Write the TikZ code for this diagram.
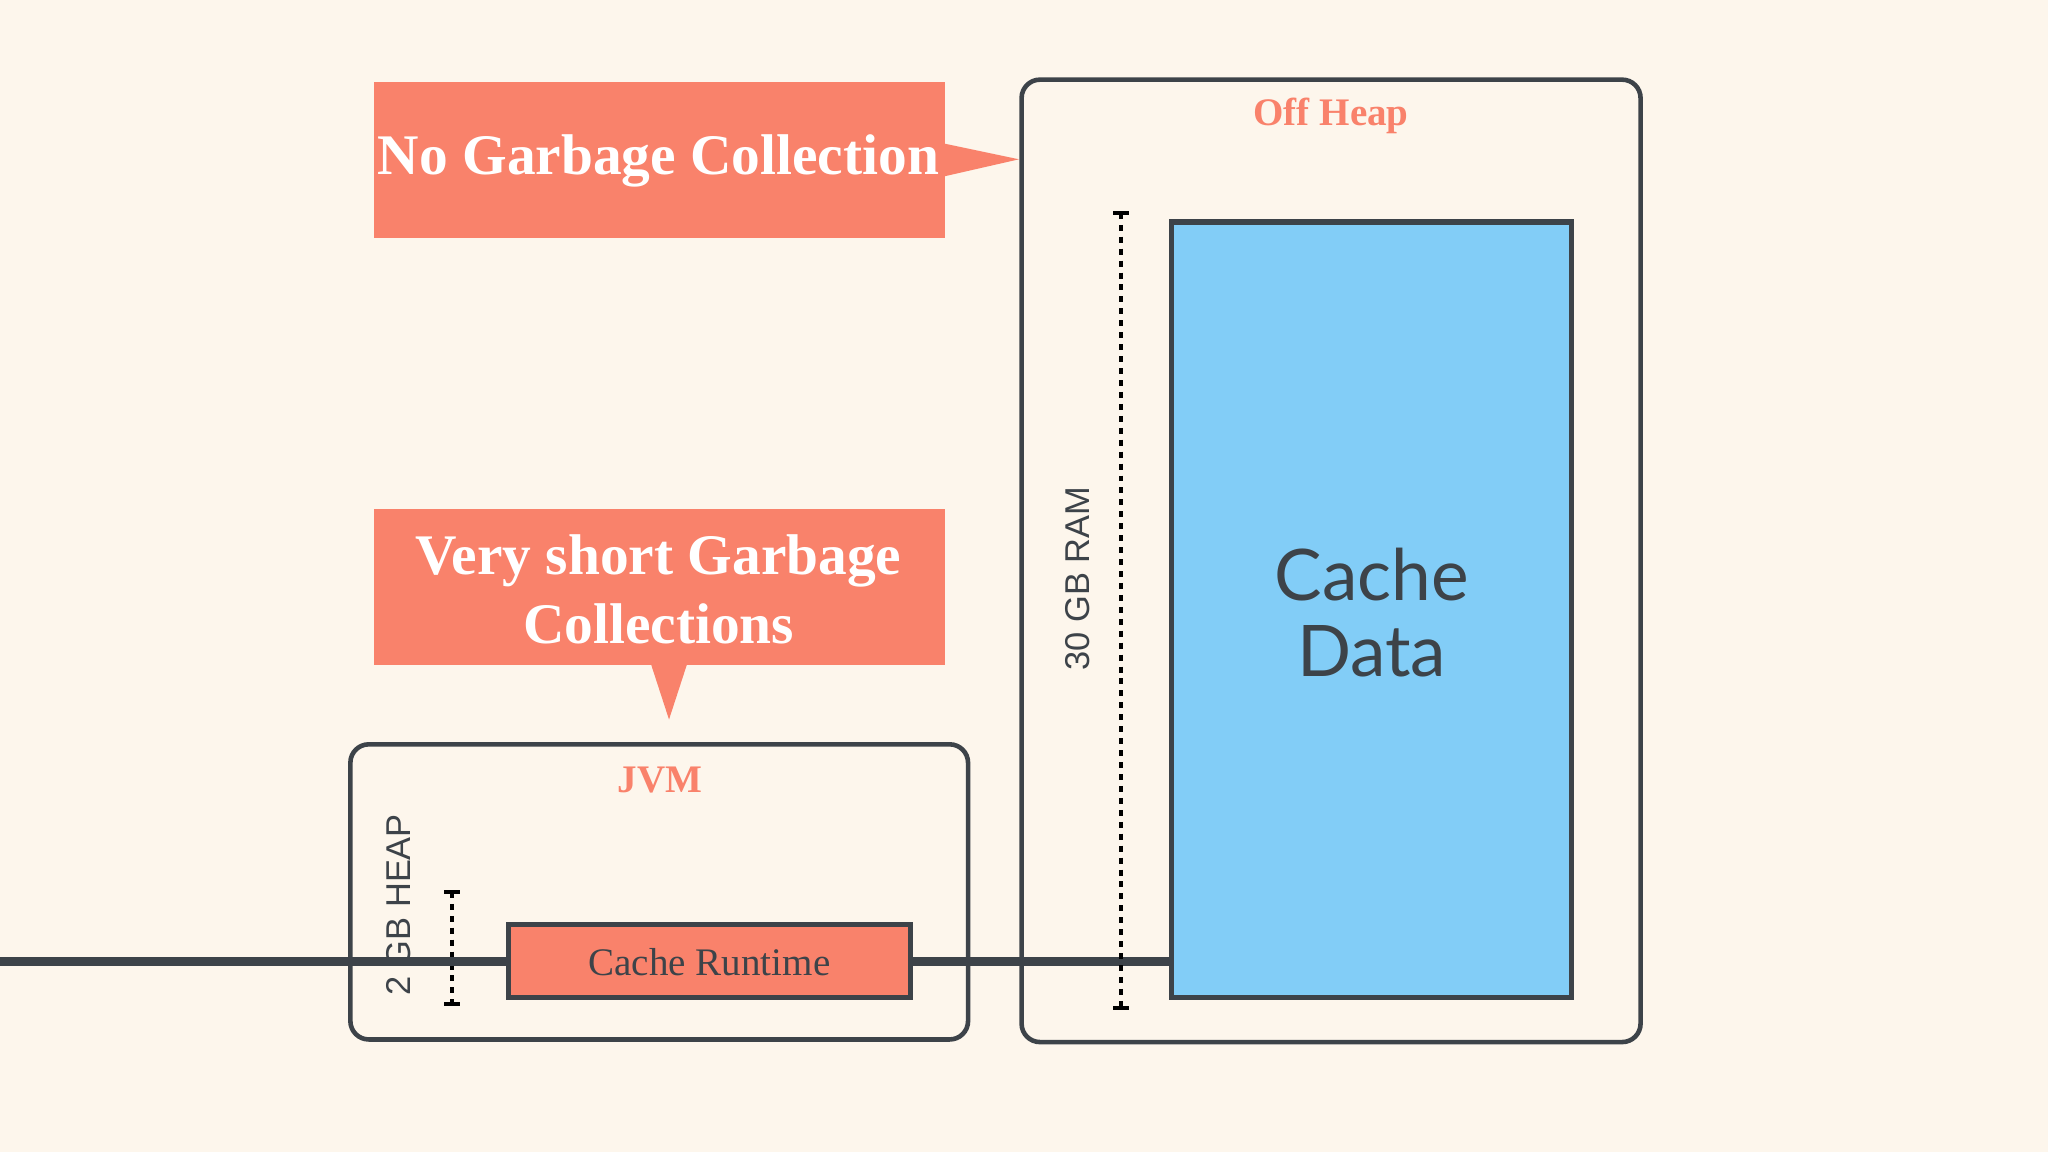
\documentclass[tikz,border=0pt]{standalone}
\usepackage{fontspec}
\setmainfont{Liberation Serif}
\newfontfamily\sansf{Liberation Sans}
\newfontfamily\latof{Lato}
\definecolor{bg}{HTML}{FDF6EC}
\definecolor{salmon}{HTML}{F9826B}
\definecolor{dark}{HTML}{3D4349}
\definecolor{sky}{HTML}{82CDF7}
\begin{document}
\begin{tikzpicture}[x=0.01cm,y=-0.01cm,
  callout/.style={fill=salmon,draw=none},
  ctext/.style={text=white,font=\fontsize{12.5}{15}\selectfont\bfseries,align=center},
  frame/.style={draw=dark,line width=1pt,rounded corners=4pt},
  title/.style={text=salmon,font=\fontsize{8.5}{10}\selectfont\bfseries},
  dim/.style={draw=black,line width=0.8pt,dash pattern=on 1.3pt off 1.3pt},
  tick/.style={draw=black,line width=0.8pt},
  side/.style={font=\sansf\fontsize{7.5}{9}\selectfont,rotate=90,text=dark}]
\fill[bg] (0,0) rectangle (1568,882);
% callout 1
\fill[callout] (286,63) rectangle (723,182);
\coordinate (t1) at (780,122);
\fill[callout] (723,110) -- (t1) -- (723,135) -- cycle;
\node[ctext] (c1) at (504,123) {No Garbage Collection};
% callout 2
\fill[callout] (286,390) rectangle (723,509);
\coordinate (t2) at (512,551);
\fill[callout] (498,508) -- (t2) -- (526,508) -- cycle;
\node[ctext] (c2) at (504,451) {Very short Garbage\\Collections};
% JVM
\draw[frame] (268,570) rectangle (741,796);
\node[title] (jvm) at (505,597) {JVM};
\node[side] (heap) at (305,693) {2 GB HEAP};
\coordinate (h1) at (346,683); \coordinate (h2) at (346,769);
\draw[dim] (h1) -- (h2);
\draw[tick] (340,683) -- (352,683) (340,769) -- (352,769);
\node[draw=dark,line width=1pt,fill=salmon,minimum width=308\pgflinewidth,inner sep=0pt] (rt) at (543,736) {};
\draw[draw=dark,line width=1.1pt,fill=salmon] (389,708) rectangle (697,764);
\node[text=dark,font=\fontsize{8.5}{10}\selectfont] (rtl) at (543,737) {Cache Runtime};
% Off heap
\draw[frame] (782,61) rectangle (1256,798);
\node[title] (off) at (1019,89) {Off Heap};
\node[side] (ram) at (825,443) {30 GB RAM};
\coordinate (r1) at (858,163); \coordinate (r2) at (858,772);
\draw[dim] (r1) -- (r2);
\draw[tick] (852,163) -- (864,163) (852,772) -- (864,772);
\draw[draw=dark,line width=1.1pt,fill=sky] (897,170) rectangle (1203,764);
\node[text=dark,font=\latof\fontsize{15.5}{16.5}\selectfont,align=center] (cd) at (1050,469) {Cache\\Data};
\end{tikzpicture}
\end{document}
